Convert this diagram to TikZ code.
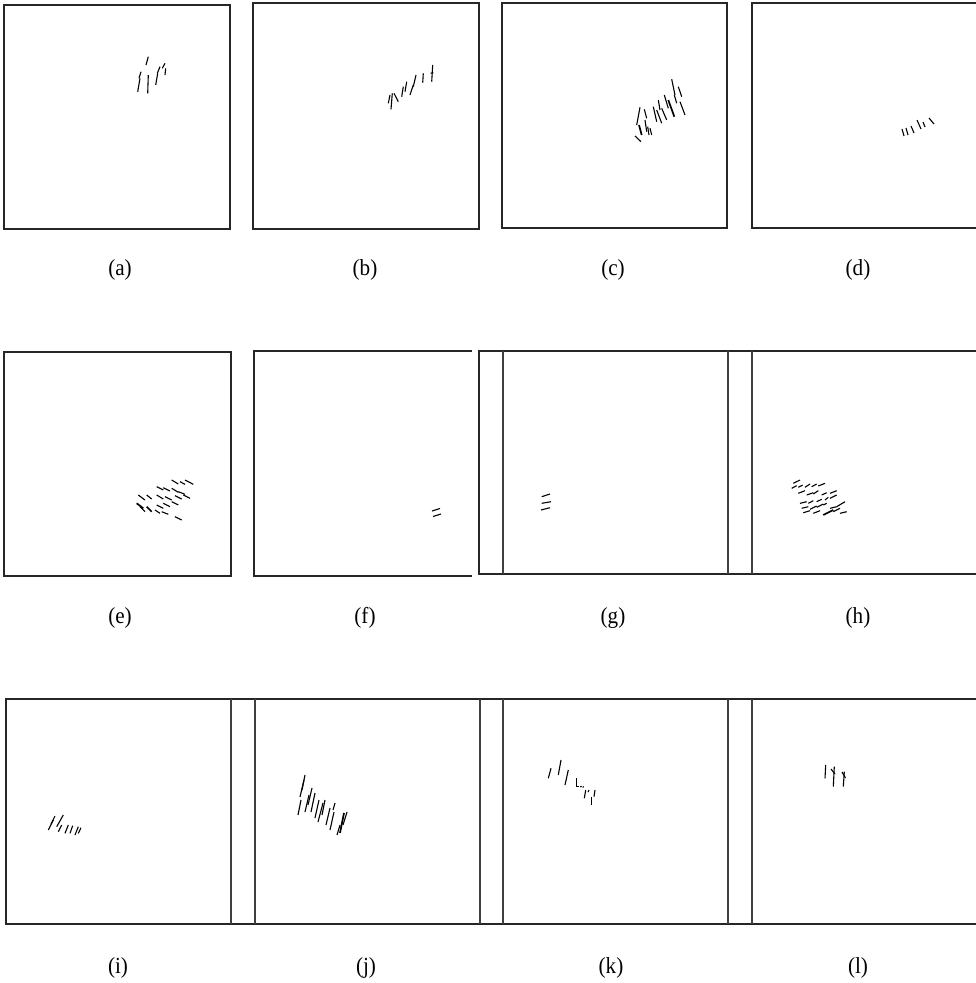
\documentclass[tikz,border=0pt]{standalone}
\usepackage{fontspec}
\setmainfont{Liberation Serif}
\begin{document}
\begin{tikzpicture}[x=1pt,y=-1pt,
  frame/.style={draw=black!85,line width=1.6pt},
  divider/.style={draw=black!75,line width=1.5pt},
  hatch/.style={draw=black,line width=1.1pt},
  thickhatch/.style={draw=black,line width=1.7pt},
  caption/.style={font=\fontsize{23}{27}\selectfont,inner sep=0pt,xscale=0.92}]
\useasboundingbox (0,0) rectangle (975,983);
% ---------- Row 1 ----------
\draw[frame] (4,5) rectangle (230,229);
\draw[frame] (253,3) rectangle (479,229);
\draw[frame] (502,3) rectangle (727,228);
\draw[frame] (980,3) -- (752,3) -- (752,228) -- (980,228);
% ---------- Row 2 ----------
\draw[frame] (4,352) rectangle (231,576);
\draw[frame] (472,351) -- (254,351) -- (254,576) -- (472,576);
\draw[frame] (980,351) -- (479,351) -- (479,574) -- (980,574);
\draw[divider] (503,351) -- (503,574);
\draw[divider] (728,351) -- (728,574);
\draw[divider] (752,351) -- (752,574);
% ---------- Row 3 ----------
\draw[frame] (980,699) -- (6,699) -- (6,924) -- (980,924);
\foreach \xx in {231,255,480,503,728,752}
  \draw[divider] (\xx,699) -- (\xx,924);
% ---------- strokes (a) ----------
\foreach \xa/\ya/\xb/\yb in {137.7/91.7/140/78.3, 139/78.3/141/71.7, 146/65/148.3/56.7,
  147.7/93.3/148.3/75, 155.7/85/157.7/73.3, 157.3/73.3/160/66.7, 165/75/165.7/68.3, 162.3/68.3/165/63.3}
  \draw[hatch] (\xa,\ya) -- (\xb,\yb);
% ---------- strokes (b) ----------
\foreach \xa/\ya/\xb/\yb in {388.3/103.3/390/95, 391/109.3/392.3/93.3, 394/93.3/398.3/101.7,
  401.7/96.7/403.3/86.7, 405/91.7/406.7/81.7, 410/95/413.3/85, 413.3/86.7/416/75,
  422.7/82.7/423.3/73.3, 431.7/81.7/432.7/65, 430.7/73.3/433.3/72.7}
  \draw[hatch] (\xa,\ya) -- (\xb,\yb);
% ---------- strokes (c) ----------
\foreach \xa/\ya/\xb/\yb in {635/136/641/141.7, 640/107.3/636.7/125, 644.3/109.3/646.7/118.3,
  645/120/646.7/131.7, 647.7/126.7/649/135, 650/128.3/651.7/135, 653.3/106.7/656.7/121.7,
  656.7/110/661.7/123.3, 658.3/100/660/110, 661.7/108.3/666.7/120, 664.3/95/668.3/108.3,
  671.7/79.3/675/95, 674.3/95/676.7/103.3, 678.3/86.7/681.7/96.7, 680/101.7/685/115}
  \draw[hatch] (\xa,\ya) -- (\xb,\yb);
\draw[thickhatch] (639,125) -- (641.7,135);
\draw[thickhatch] (668.3,100) -- (674.3,116.7);
% ---------- strokes (d) ----------
\foreach \xa/\ya/\xb/\yb in {902/129/904/136, 906/128/908/135, 911/126/914/133,
  917/120/921/129, 923/122/925/127, 929/118/934/124}
  \draw[hatch] (\xa,\ya) -- (\xb,\yb);
% ---------- strokes (e) ----------
\foreach \xa/\ya/\xb/\yb in {171.7/480/178.3/484, 180/481.7/185/484.3, 185/480/193.3/484.3,
  156.7/486.7/163.3/490, 163.3/487.7/170/491, 171.7/488.3/178.3/492.3, 178.3/491.7/185/494.3,
  138.3/495/145/500, 146.7/495/151.7/499, 156.7/495/163.3/499, 165/496.7/171.7/500,
  175/495.7/181.7/499, 183.3/495/190/498.3,
  156.7/505/163.3/508.3, 163.3/503.3/170/506.7, 171.7/501.7/178.3/505,
  155/510/160/513.3, 161.7/511.7/168.3/514.3, 175/516.7/181.7/520}
  \draw[hatch] (\xa,\ya) -- (\xb,\yb);
\draw[thickhatch] (136.7,503.3) -- (143.3,508.3);
\draw[thickhatch] (146.7,506.7) -- (151.7,511.7);
\draw[hatch] (140,506.7) -- (145,511.7);
% ---------- strokes (f) ----------
\draw[hatch] (432,511) -- (440,508.5);
\draw[hatch] (433,516.5) -- (441,514);
% ---------- strokes (g) ----------
\foreach \xa/\ya/\xb/\yb in {541.7/496.7/550/494, 541.7/503.3/551/501.7, 541/510/550/507.7}
  \draw[hatch] (\xa,\ya) -- (\xb,\yb);
% ---------- strokes (h) ----------
\foreach \xa/\ya/\xb/\yb in {793.3/483.3/800/480, 791.7/488.3/796.7/485.7, 798.3/487.3/802.7/485,
  805/487.3/810/484, 811.7/486.7/816.7/484, 818.3/486/825/483.3,
  798.3/493.3/805/490.7, 806.7/495/813.3/492.7, 813.3/494/818.3/490.7, 821.7/495/826.7/492.7,
  830/493.3/836.7/490.7, 800/503.3/806.7/501.7, 808.3/503.3/813.3/500.7, 816.7/501.7/821.7/499.3,
  825/500/828.3/497.3, 830/498.3/836.7/495, 801.7/508.3/808.3/506.7, 810/509.3/816.7/506,
  816.7/507.3/823.3/504, 823.3/505/826.7/503.3, 830/508.3/836.7/506.7, 803.3/512.7/810/510.7,
  813.3/513.3/820/510.7, 833.3/511.7/840/508.3, 836.7/506.7/845/501.7, 840/513.3/846.7/511.7}
  \draw[hatch] (\xa,\ya) -- (\xb,\yb);
\draw[thickhatch] (823.3,515) -- (833.3,510);
% ---------- strokes (i) ----------
\foreach \xa/\ya/\xb/\yb in {48.3/830/53.3/820, 51/824/55/816, 56.7/826.7/63.3/815,
  58.3/831.7/61.7/825, 65/833.3/68.3/825, 70/833.3/72.7/825.7, 75/835/78.3/826.7, 78.3/833.3/81/827.7}
  \draw[hatch] (\xa,\ya) -- (\xb,\yb);
% ---------- strokes (j) ----------
\foreach \xa/\ya/\xb/\yb in {298/815/301/800, 300/797/304/780, 302/790/305/775, 305/812/309/795,
  308/805/312/788, 311/812/315/793, 315/818/319/800, 318/822/323/803, 322/815/325/800,
  326/825/330/808, 330/830/334/812, 333/810/335/803, 337/835/340/825, 343/825/347/812}
  \draw[hatch] (\xa,\ya) -- (\xb,\yb);
\draw[thickhatch] (340,833) -- (344,813);
% ---------- strokes (k) ----------
\foreach \xa/\ya/\xb/\yb in {548.3/778.3/551/768.3, 558.3/775/561/760, 565/785/568.3/770,
  576.7/786.7/576.7/778.3, 576.7/786.7/579/786.7, 580.5/787/581.5/786, 582.7/787.5/583.7/786.5,
  584.3/798.3/585.7/790, 588/792/589/790, 591.7/805/591.7/796.7, 594/796.7/595/790}
  \draw[hatch] (\xa,\ya) -- (\xb,\yb);
% ---------- strokes (l) ----------
\foreach \xa/\ya/\xb/\yb in {825/778.3/825.7/765, 833.3/786.7/834.3/766.7, 831/769/835/774,
  843.3/786.7/844.3/771.7, 842/772/845.5/778}
  \draw[hatch] (\xa,\ya) -- (\xb,\yb);
% ---------- captions ----------
\node[caption] (la) at (120,270) {(a)};
\node[caption] (lb) at (365,270) {(b)};
\node[caption] (lc) at (613,270) {(c)};
\node[caption] (ld) at (858,270) {(d)};
\node[caption] (le) at (120,618) {(e)};
\node[caption] (lf) at (365,618) {(f)};
\node[caption] (lg) at (613,618) {(g)};
\node[caption] (lh) at (858,618) {(h)};
\node[caption] (li) at (118,968) {(i)};
\node[caption] (lj) at (366,968) {(j)};
\node[caption] (lk) at (611,968) {(k)};
\node[caption] (ll) at (858,968) {(l)};
\end{tikzpicture}
\end{document}
